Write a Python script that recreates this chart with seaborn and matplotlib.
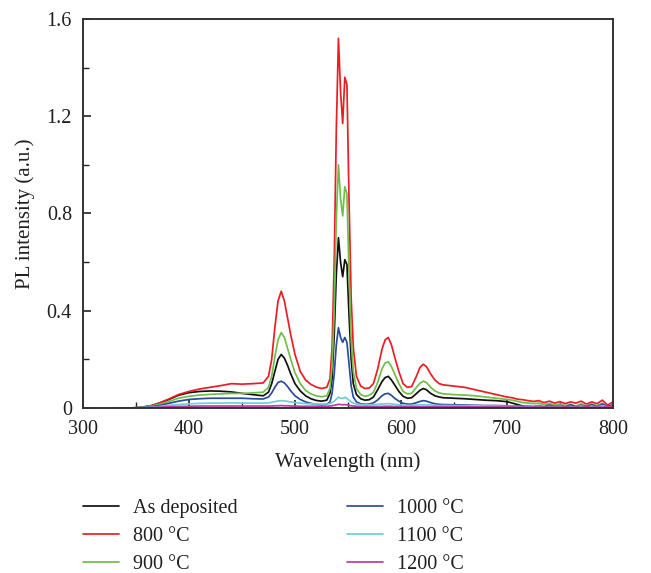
import matplotlib
matplotlib.use("Agg")
import matplotlib.pyplot as plt
from matplotlib.ticker import MultipleLocator, FuncFormatter
import seaborn as sns
import pandas as pd

# wavelength grid (nm)
wavelength = [330, 345, 355, 365, 372, 380, 390,
              400, 410, 420, 430, 440, 450, 460, 470,
              475, 478, 481, 484, 487, 490, 493, 496,
              500, 505, 510, 515, 520, 525, 530,
              533, 535, 537, 539, 541, 543, 545, 547, 549, 551, 553, 555,
              558, 562, 566, 570, 574, 578, 582,
              585, 588, 591, 594, 598, 602, 606, 610, 614, 618,
              621, 624, 628, 632, 636, 640,
              650, 660, 670, 680, 690,
              700, 705, 710, 715, 720, 725, 730, 735, 740, 745, 750,
              755, 760, 765, 770, 775, 780, 785, 790, 795, 800]

as_deposited = [0, 0, 0.002, 0.01, 0.02, 0.033, 0.052,
                0.063, 0.068, 0.07, 0.069, 0.066, 0.06, 0.055, 0.05,
                0.065, 0.1, 0.15, 0.2, 0.22, 0.205, 0.175, 0.14,
                0.1, 0.07, 0.05, 0.038, 0.031, 0.028, 0.032,
                0.06, 0.12, 0.3, 0.55, 0.7, 0.6, 0.54, 0.61, 0.59, 0.38, 0.2, 0.1,
                0.055, 0.038, 0.032, 0.034, 0.045, 0.075, 0.108,
                0.125, 0.13, 0.115, 0.095, 0.068, 0.048, 0.04, 0.042, 0.057, 0.073,
                0.08, 0.075, 0.06, 0.05, 0.045, 0.042,
                0.04, 0.038, 0.035, 0.032, 0.03,
                0.026, 0.02, 0.014, 0.008, 0.004, 0.002, 0, 0, 0, 0, 0,
                0, 0, 0, 0, 0, 0, 0, 0, 0, 0]

t800 = [0, 0, 0.003, 0.01, 0.02, 0.035, 0.055,
        0.068, 0.078, 0.085, 0.092, 0.1, 0.098, 0.1, 0.103,
        0.13, 0.2, 0.33, 0.44, 0.48, 0.44, 0.37, 0.3,
        0.22, 0.15, 0.115, 0.097, 0.086, 0.08, 0.085,
        0.12, 0.25, 0.6, 1.15, 1.52, 1.3, 1.17, 1.36, 1.33, 0.85, 0.45, 0.25,
        0.13, 0.09, 0.08, 0.082, 0.1, 0.16, 0.24,
        0.28, 0.29, 0.26, 0.21, 0.15, 0.1, 0.085, 0.088, 0.125, 0.167,
        0.18, 0.17, 0.14, 0.115, 0.1, 0.095,
        0.09, 0.085, 0.075, 0.065, 0.055,
        0.045, 0.042, 0.036, 0.034, 0.03, 0.027, 0.03, 0.022, 0.028, 0.02, 0.026,
        0.018, 0.025, 0.02, 0.028, 0.016, 0.025, 0.018, 0.032, 0.012, 0.025]

t900 = [0, 0, 0.002, 0.008, 0.015, 0.025, 0.04,
        0.048, 0.053, 0.056, 0.058, 0.06, 0.06, 0.062, 0.065,
        0.085, 0.13, 0.21, 0.28, 0.31, 0.29, 0.245, 0.2,
        0.145, 0.1, 0.072, 0.058, 0.05, 0.046, 0.05,
        0.08, 0.17, 0.4, 0.78, 1.0, 0.86, 0.79, 0.91, 0.88, 0.55, 0.28, 0.15,
        0.08, 0.055, 0.048, 0.052, 0.065, 0.105, 0.16,
        0.185, 0.19, 0.17, 0.14, 0.1, 0.068, 0.058, 0.06, 0.082, 0.102,
        0.11, 0.105, 0.085, 0.07, 0.062, 0.058,
        0.055, 0.053, 0.05, 0.045, 0.04,
        0.035, 0.032, 0.027, 0.022, 0.02, 0.018, 0.02, 0.014, 0.018, 0.012, 0.016,
        0.01, 0.015, 0.008, 0.017, 0.009, 0.016, 0.01, 0.02, 0.006, 0.015]

t1000 = [0, 0, 0.001, 0.005, 0.01, 0.018, 0.028,
         0.035, 0.038, 0.04, 0.04, 0.04, 0.04, 0.038, 0.037,
         0.045, 0.062, 0.085, 0.105, 0.11, 0.103, 0.088, 0.07,
         0.05, 0.035, 0.025, 0.019, 0.015, 0.013, 0.015,
         0.025, 0.06, 0.14, 0.26, 0.33, 0.29, 0.27, 0.29, 0.27, 0.18, 0.09, 0.045,
         0.025, 0.017, 0.015, 0.016, 0.021, 0.033, 0.05,
         0.058, 0.06, 0.052, 0.04, 0.028, 0.019, 0.016, 0.016, 0.021, 0.027,
         0.03, 0.028, 0.022, 0.017, 0.015, 0.014,
         0.013, 0.012, 0.011, 0.01, 0.01,
         0.009, 0.008, 0.008, 0.007, 0.008, 0.006, 0.01, 0.005, 0.012, 0.006, 0.01,
         0.004, 0.013, 0.005, 0.011, 0.006, 0.014, 0.005, 0.016, 0.006, 0.012]

t1100 = [0, 0, 0.001, 0.003, 0.006, 0.01, 0.014,
         0.017, 0.019, 0.02, 0.02, 0.021, 0.02, 0.02, 0.02,
         0.021, 0.023, 0.026, 0.029, 0.03, 0.029, 0.027, 0.025,
         0.022, 0.02, 0.018, 0.017, 0.016, 0.016, 0.016,
         0.018, 0.022, 0.028, 0.036, 0.045, 0.04, 0.039, 0.044, 0.04, 0.032, 0.025, 0.02,
         0.016, 0.014, 0.013, 0.013, 0.014, 0.015, 0.016,
         0.017, 0.018, 0.017, 0.015, 0.013, 0.012, 0.011, 0.011, 0.012, 0.013,
         0.013, 0.013, 0.012, 0.011, 0.01, 0.01,
         0.01, 0.009, 0.009, 0.008, 0.008,
         0.007, 0.007, 0.006, 0.006, 0.006, 0.005, 0.007, 0.004, 0.006, 0.005, 0.007,
         0.004, 0.006, 0.004, 0.008, 0.004, 0.007, 0.004, 0.009, 0.004, 0.006]

t1200 = [0, 0, 0, 0.002, 0.003, 0.005, 0.006,
         0.007, 0.008, 0.008, 0.008, 0.008, 0.008, 0.008, 0.008,
         0.008, 0.008, 0.009, 0.009, 0.01, 0.009, 0.009, 0.008,
         0.008, 0.007, 0.007, 0.007, 0.007, 0.007, 0.007,
         0.008, 0.009, 0.011, 0.013, 0.015, 0.014, 0.013, 0.014, 0.013, 0.011, 0.009, 0.008,
         0.007, 0.006, 0.006, 0.006, 0.006, 0.006, 0.006,
         0.007, 0.007, 0.007, 0.006, 0.006, 0.005, 0.005, 0.005, 0.005, 0.005,
         0.005, 0.005, 0.005, 0.005, 0.005, 0.005,
         0.005, 0.005, 0.004, 0.004, 0.004,
         0.004, 0.004, 0.003, 0.004, 0.003, 0.004, 0.003, 0.005, 0.003, 0.004, 0.003,
         0.005, 0.003, 0.004, 0.003, 0.005, 0.003, 0.004, 0.003, 0.005, 0.003]

labels = ["As deposited", "800 °C", "900 °C", "1000 °C", "1100 °C", "1200 °C"]
colors = ["#111111", "#ed1c24", "#6cc04a", "#2b4c9c", "#6dcfd6", "#bd3aa6"]
series = [as_deposited, t800, t900, t1000, t1100, t1200]

frames = []
for lab, vals in zip(labels, series):
    frames.append(pd.DataFrame({"wl": wavelength, "pl": vals, "sample": lab}))
df = pd.concat(frames, ignore_index=True)

sns.set_theme(style="ticks")
plt.rcParams["font.family"] = ["Liberation Serif", "DejaVu Serif"]
txt = "#231f20"

fig = plt.figure(figsize=(6.51, 5.73), dpi=100)
ax = fig.add_axes([0.1275, 0.288, 0.8141, 0.679])

sns.lineplot(data=df, x="wl", y="pl", hue="sample", hue_order=labels,
             palette=dict(zip(labels, colors)), estimator=None, sort=False,
             linewidth=1.25, ax=ax, legend=True)

ax.set_xlim(300, 800)
ax.set_ylim(0, 1.6)
ax.xaxis.set_major_locator(MultipleLocator(100))
ax.xaxis.set_minor_locator(MultipleLocator(50))
ax.yaxis.set_major_locator(MultipleLocator(0.4))
ax.yaxis.set_minor_locator(MultipleLocator(0.2))
ax.yaxis.set_major_formatter(FuncFormatter(lambda v, p: "0" if abs(v) < 1e-9 else f"{v:.1f}"))
ax.tick_params(axis="both", which="both", direction="in", colors="#222222",
               labelcolor=txt, labelsize=14.5, top=False, right=False)
ax.tick_params(axis="both", which="major", length=6, width=1.2)
ax.tick_params(axis="both", which="minor", length=4, width=1.0)
ax.tick_params(axis="x", pad=9)
ax.tick_params(axis="y", pad=8)
for sp in ax.spines.values():
    sp.set_visible(True)
    sp.set_color("#333333")
    sp.set_linewidth(1.4)

ax.set_xlabel("Wavelength (nm)", fontsize=15, color=txt, labelpad=9)
ax.set_ylabel("PL intensity (a.u.)", fontsize=15, color=txt, labelpad=8)

handles, leg_labels = ax.get_legend_handles_labels()
ax.get_legend().remove()
fig.legend(handles, leg_labels, loc="upper left", bbox_to_anchor=(0.1275, 0.13),
           ncol=2, frameon=False, fontsize=14.5, handlelength=1.8,
           handletextpad=0.7, columnspacing=5.4, labelspacing=0.45,
           borderpad=0, borderaxespad=0, labelcolor=txt)

fig.savefig("out.png", dpi=100)
